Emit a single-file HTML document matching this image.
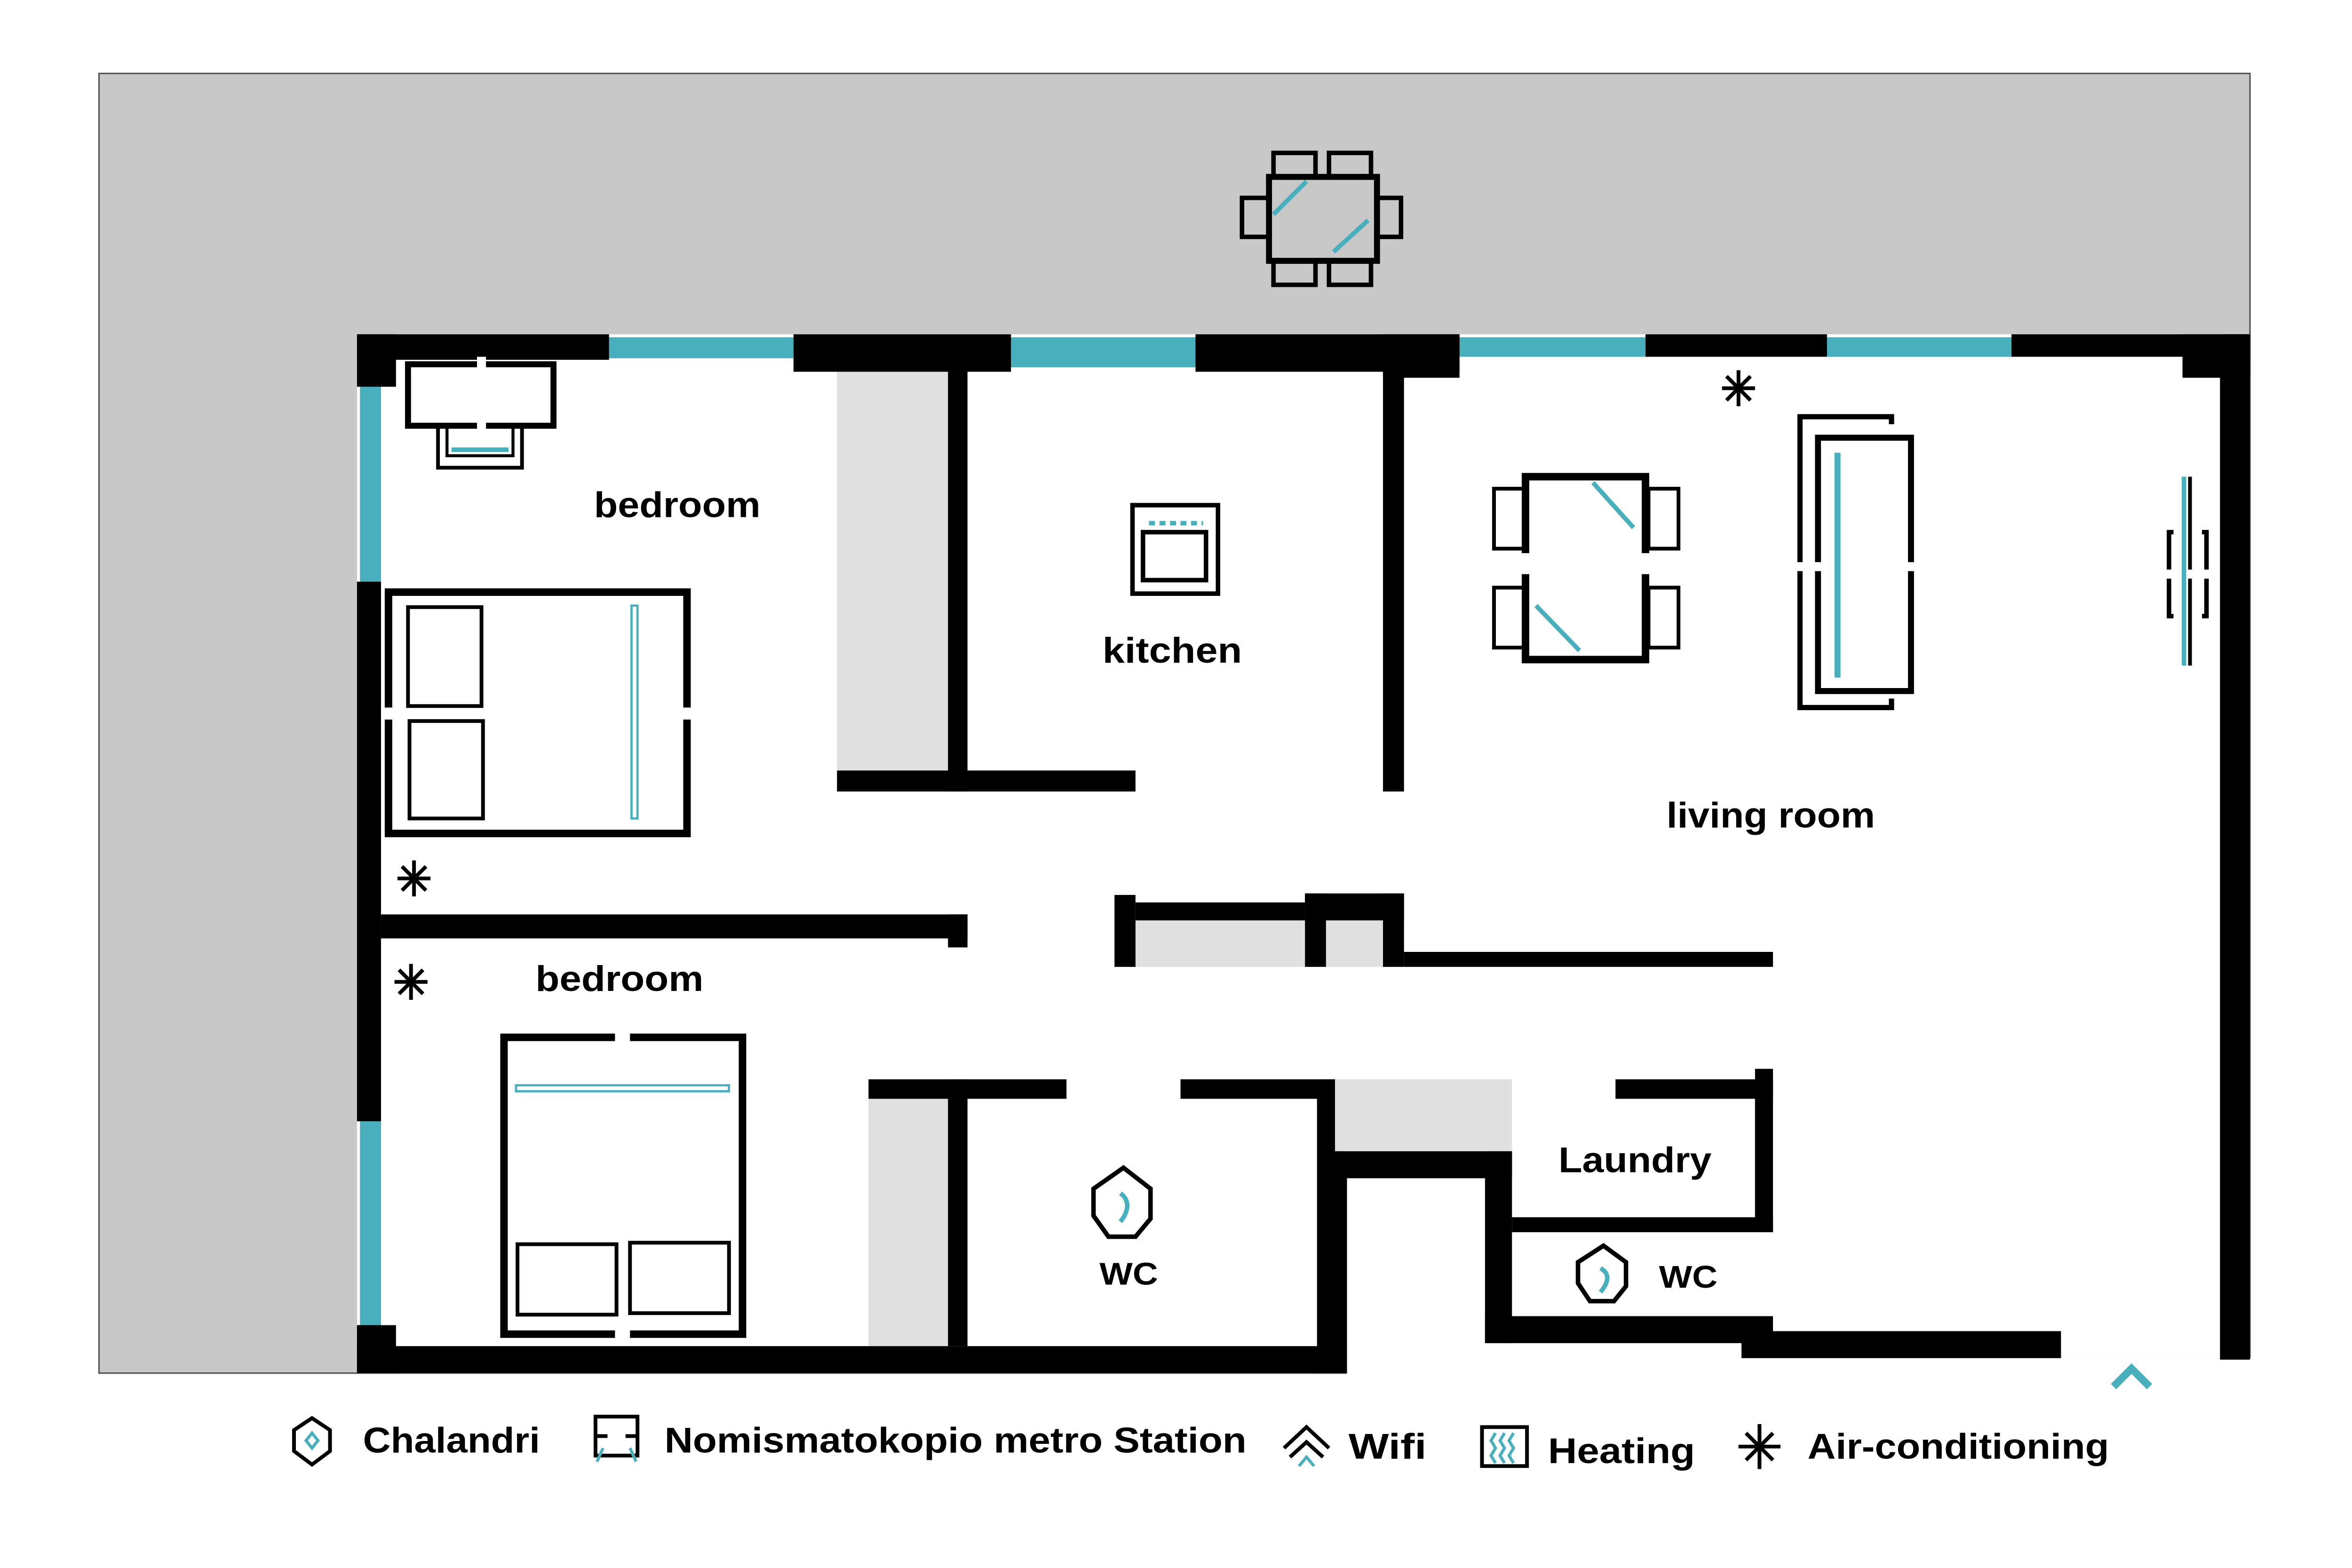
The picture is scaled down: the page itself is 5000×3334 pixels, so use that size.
<!DOCTYPE html>
<html><head><meta charset="utf-8"><style>
html,body{margin:0;padding:0;background:#fff;}
svg{display:block;}
text{font-family:"Liberation Sans",sans-serif;font-weight:bold;fill:#000;}
</style></head><body>
<svg width="5000" height="3334" viewBox="0 0 1568 1046" preserveAspectRatio="none" xmlns="http://www.w3.org/2000/svg">
<rect width="1568" height="1046" fill="#fff"/>
<!-- outdoor gray -->
<rect x="66" y="49" width="1434" height="867" fill="#c8c8c8" stroke="#555" stroke-width="1"/>
<polygon points="238,223 1500,223 1500,906 1374,906 1374,916 898,916 898,916 238,916" fill="#fff"/>
<rect x="898" y="906" width="603" height="12" fill="#fff"/>
<!-- closets gray -->
<g fill="#e0e0e0">
<rect x="558" y="248" width="74" height="274"/>
<rect x="757" y="614" width="113" height="31"/>
<rect x="884" y="614" width="38" height="31"/>
<rect x="579" y="733" width="53" height="165"/>
<rect x="890" y="720" width="118" height="48"/>
</g>
<!-- windows -->
<g fill="#49afbd">
<rect x="406" y="225" width="123" height="14"/>
<rect x="674" y="225" width="123" height="20"/>
<rect x="973" y="225" width="124" height="13"/>
<rect x="1218" y="225" width="123" height="13"/>
<rect x="240" y="258" width="14" height="130"/>
<rect x="240" y="748" width="14" height="136"/>
</g>
<!-- walls -->
<g fill="#000">
<rect x="238" y="223" width="168" height="17"/>
<rect x="238" y="223" width="26" height="35"/>
<rect x="529" y="223" width="145" height="25"/>
<rect x="797" y="223" width="176" height="25"/>
<rect x="922" y="223" width="51" height="29"/>
<rect x="1097" y="223" width="121" height="15"/>
<rect x="1341" y="223" width="159" height="15"/>
<rect x="1455" y="223" width="45" height="29"/>
<rect x="1480" y="223" width="20" height="684"/>
<rect x="238" y="388" width="16" height="360"/>
<rect x="238" y="884" width="16" height="32"/>
<rect x="238" y="898" width="660" height="18"/>
<rect x="238" y="884" width="26" height="32"/>
<rect x="632" y="248" width="13" height="280"/>
<rect x="558" y="514" width="199" height="14"/>
<rect x="922" y="248" width="14" height="280"/>
<rect x="254" y="610" width="391" height="16"/>
<rect x="632" y="610" width="13" height="22"/>
<rect x="743" y="597" width="14" height="48"/>
<rect x="757" y="602" width="113" height="12"/>
<rect x="870" y="596" width="66" height="18"/>
<rect x="870" y="596" width="14" height="49"/>
<rect x="922" y="596" width="14" height="49"/>
<rect x="936" y="635" width="246" height="10"/>
<rect x="579" y="720" width="132" height="13"/>
<rect x="632" y="720" width="13" height="178"/>
<rect x="787" y="720" width="103" height="13"/>
<rect x="878" y="720" width="12" height="196"/>
<rect x="890" y="768" width="118" height="18"/>
<rect x="890" y="768" width="8" height="148"/>
<rect x="990" y="768" width="18" height="128"/>
<rect x="1008" y="812" width="174" height="10"/>
<rect x="1077" y="720" width="105" height="13"/>
<rect x="1170" y="713" width="12" height="109"/>
<rect x="990" y="878" width="192" height="18"/>
<rect x="1161" y="888" width="213" height="18"/>
</g>
<!-- furniture strokes -->
<g fill="none" stroke="#000">
<!-- outdoor table -->
<rect x="846" y="118" width="72" height="56" stroke-width="4"/>
<rect x="849" y="102" width="28" height="16" stroke-width="3"/>
<rect x="886" y="102" width="28" height="16" stroke-width="3"/>
<rect x="849" y="174" width="28" height="16" stroke-width="3"/>
<rect x="886" y="174" width="28" height="16" stroke-width="3"/>
<rect x="828" y="132" width="18" height="26" stroke-width="3"/>
<rect x="918" y="132" width="16" height="26" stroke-width="3"/>
<!-- bedroom1 desk -->
<rect x="272" y="243" width="97" height="41" stroke-width="4"/>
<rect x="292" y="284" width="56" height="28" stroke-width="2.5"/>
<rect x="298" y="284" width="44" height="20" stroke-width="2"/>
<!-- bed1 -->
<rect x="259" y="395" width="199" height="161" stroke-width="5"/>
<rect x="272" y="405" width="49" height="66" stroke-width="2.5"/>
<rect x="273" y="481" width="49" height="65" stroke-width="2.5"/>
<!-- bed2 -->
<rect x="336" y="692" width="159" height="198" stroke-width="5"/>
<rect x="345" y="830" width="66" height="47" stroke-width="2.5"/>
<rect x="420" y="829" width="66" height="47" stroke-width="2.5"/>
<!-- stove -->
<rect x="755" y="337" width="57" height="59" stroke-width="3"/>
<rect x="762" y="355" width="42" height="32" stroke-width="3"/>
<!-- living table -->
<rect x="1017" y="318" width="80" height="122" stroke-width="5"/>
<rect x="996" y="326" width="20" height="40" stroke-width="2.5"/>
<rect x="996" y="392" width="20" height="40" stroke-width="2.5"/>
<rect x="1099" y="326" width="20" height="40" stroke-width="2.5"/>
<rect x="1099" y="392" width="20" height="40" stroke-width="2.5"/>
<!-- sofa -->
<polyline points="1261,283 1261,278 1200,278 1200,472 1261,472 1261,466" stroke-width="3.5"/>
<rect x="1212" y="292" width="62" height="169" stroke-width="4"/>
<!-- tv -->
<line x1="1460" y1="318" x2="1460" y2="444" stroke-width="2.5"/>
<polyline points="1449,355 1446,355 1446,380" stroke-width="3"/>
<polyline points="1468,355 1471,355 1471,380" stroke-width="3"/>
<polyline points="1449,411 1446,411 1446,386" stroke-width="3"/>
<polyline points="1468,411 1471,411 1471,386" stroke-width="3"/>
<!-- WC icons -->
<polygon points="749,779 767,793 767,813 757,825 739,825 729,811 729,793" stroke-width="3"/>
<polygon points="1069,831 1084,842 1084,858 1076,868 1060,868 1052,856 1052,842" stroke-width="3"/>
</g>
<!-- gaps in furniture -->
<g fill="#fff">
<rect x="848" y="115" width="0" height="0"/>
<rect x="254" y="472" width="10" height="8"/>
<rect x="452" y="472" width="12" height="8"/>
<rect x="410" y="686" width="10" height="12"/>
<rect x="410" y="884" width="10" height="12"/>
<rect x="318" y="238" width="6" height="8"/>
<rect x="318" y="281" width="6" height="6"/>
<rect x="1010" y="369" width="94" height="14"/>
<rect x="1195" y="375" width="84" height="6"/>
<rect x="1443" y="380" width="32" height="6"/>
</g>
<!-- teal accents -->
<g stroke="#49afbd" fill="none">
<line x1="849" y1="143" x2="871" y2="121" stroke-width="3"/>
<line x1="889" y1="168" x2="912" y2="147" stroke-width="3"/>
<line x1="301" y1="300" x2="339" y2="300" stroke-width="3"/>
<rect x="421" y="404" width="4" height="142" stroke-width="1.5"/>
<rect x="344" y="724" width="142" height="4" stroke-width="1.5"/>
<line x1="1062" y1="322" x2="1089" y2="352" stroke-width="3"/>
<line x1="1024" y1="404" x2="1053" y2="434" stroke-width="3"/>
<line x1="1225" y1="302" x2="1225" y2="452" stroke-width="4"/>
<line x1="1456" y1="318" x2="1456" y2="444" stroke-width="3"/>
<line x1="766" y1="349" x2="802" y2="349" stroke-width="3" stroke-dasharray="4,3"/>
<path d="M747,796 Q756,803 747,815" stroke-width="3"/>
<path d="M1067,846 Q1076,851 1067,862" stroke-width="3"/>
<polyline points="1409,925 1421,913 1433,925" stroke-width="5"/>
</g>
<!-- snowflakes -->
<g stroke="#000" stroke-width="2.5">
<g transform="translate(1159,259)"><line x1="-11" y1="0" x2="11" y2="0"/><line x1="0" y1="-12" x2="0" y2="12"/><line x1="-8" y1="-8" x2="8" y2="8"/><line x1="-8" y1="8" x2="8" y2="-8"/></g>
<g transform="translate(276,586)"><line x1="-11" y1="0" x2="11" y2="0"/><line x1="0" y1="-12" x2="0" y2="12"/><line x1="-8" y1="-8" x2="8" y2="8"/><line x1="-8" y1="8" x2="8" y2="-8"/></g>
<g transform="translate(274,655)"><line x1="-11" y1="0" x2="11" y2="0"/><line x1="0" y1="-12" x2="0" y2="12"/><line x1="-8" y1="-8" x2="8" y2="8"/><line x1="-8" y1="8" x2="8" y2="-8"/></g>
<g transform="translate(1173,965)"><line x1="-14" y1="0" x2="14" y2="0"/><line x1="0" y1="-15" x2="0" y2="15"/><line x1="-9" y1="-9" x2="9" y2="9"/><line x1="-9" y1="9" x2="9" y2="-9"/></g>
</g>
<!-- legend icons -->
<g fill="none" stroke="#000" stroke-width="2.5">
<polygon points="208,946 220,954 220,968 208,977 196,968 196,954"/>
<rect x="397" y="945" width="28" height="26"/>
<line x1="397" y1="958" x2="405" y2="958"/>
<line x1="417" y1="958" x2="425" y2="958"/>
<path d="M856,966 L871,952 L886,966 M860,972 L871,962 L882,972"/>
<rect x="988" y="952" width="30" height="26"/>
</g>
<g stroke="#49afbd" stroke-width="2" fill="none">
<polygon points="208,956 212,961 208,966 204,961"/>
<line x1="398" y1="975" x2="402" y2="966"/><line x1="424" y1="975" x2="420" y2="966"/>
<path d="M866,978 L871,972 L876,978"/>
<path d="M997,956 l-3,5 3,5 -3,5 3,5 M1003,956 l-3,5 3,5 -3,5 3,5 M1009,956 l-3,5 3,5 -3,5 3,5"/>
</g>
<!-- labels -->
<text x="396" y="345" font-size="24" textLength="111" lengthAdjust="spacingAndGlyphs">bedroom</text>
<text x="735" y="442" font-size="24" textLength="93" lengthAdjust="spacingAndGlyphs">kitchen</text>
<text x="1111" y="552" font-size="24" textLength="139" lengthAdjust="spacingAndGlyphs">living room</text>
<text x="357" y="661" font-size="24" textLength="112" lengthAdjust="spacingAndGlyphs">bedroom</text>
<text x="1039" y="782" font-size="24" textLength="102" lengthAdjust="spacingAndGlyphs">Laundry</text>
<text x="733" y="857" font-size="21" textLength="39" lengthAdjust="spacingAndGlyphs">WC</text>
<text x="1106" y="859" font-size="21" textLength="39" lengthAdjust="spacingAndGlyphs">WC</text>
<text x="242" y="969" font-size="24" textLength="118" lengthAdjust="spacingAndGlyphs">Chalandri</text>
<text x="443" y="969" font-size="24" textLength="388" lengthAdjust="spacingAndGlyphs">Nomismatokopio metro Station</text>
<text x="899" y="973" font-size="24" textLength="52" lengthAdjust="spacingAndGlyphs">Wifi</text>
<text x="1032" y="976" font-size="24" textLength="98" lengthAdjust="spacingAndGlyphs">Heating</text>
<text x="1205" y="973" font-size="24" textLength="201" lengthAdjust="spacingAndGlyphs">Air-conditioning</text>
</svg>
</body></html>
